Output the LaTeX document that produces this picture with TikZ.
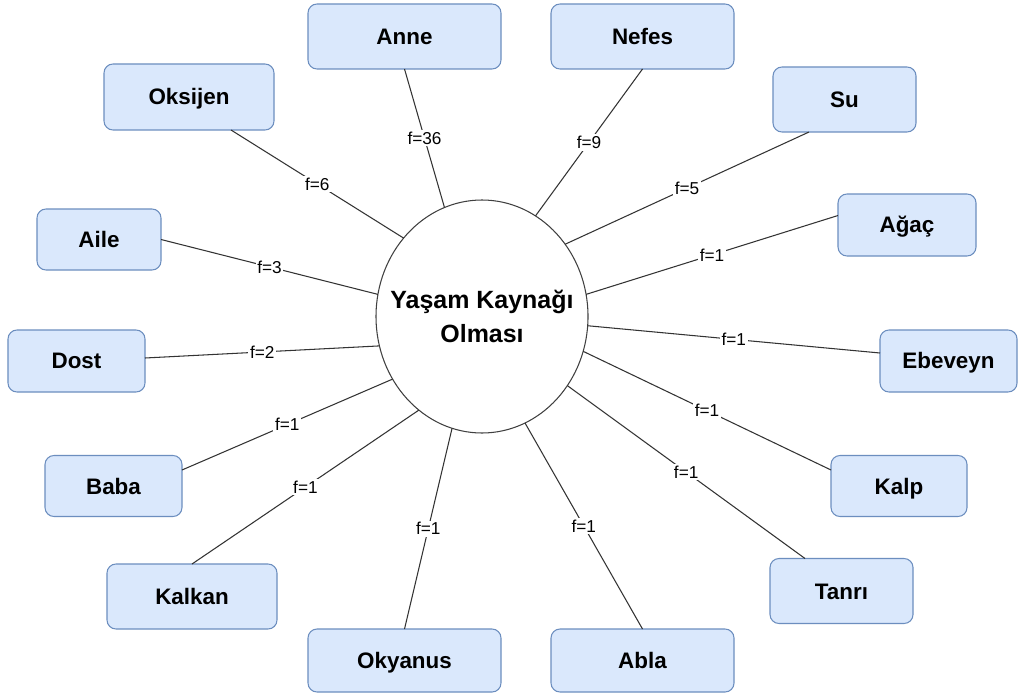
\documentclass[tikz,border=0pt]{standalone}
\usepackage{fontspec}
\setmainfont{Liberation Sans}
\usetikzlibrary{shapes.geometric}
\definecolor{boxfill}{HTML}{DAE8FC}
\definecolor{boxline}{HTML}{6C8EBF}
\begin{document}
\begin{tikzpicture}[
  topic/.style={draw=boxline, fill=boxfill, line width=0.6pt,
    rounded corners=0.18cm, outer sep=0pt, inner sep=0pt,
    font=\fontsize{12.75}{15}\selectfont\bfseries,
    text height=9.1pt, text depth=0pt},
  hub/.style={ellipse, draw=black!75, line width=0.6pt,
    minimum width=4.24cm, minimum height=4.66cm, inner sep=0pt, outer sep=0pt},
  hubtext/.style={align=center, inner sep=0pt,
    font=\fontsize{14.2}{19.3}\selectfont\bfseries},
  link/.style={draw=black!80, line width=0.6pt},
  freq/.style={fill=white, inner sep=1pt, font=\fontsize{9.8}{11}\selectfont, text=black}
]
% canvas
\fill[white] (0,0) rectangle (20.42,-13.86);
\useasboundingbox (0,0) rectangle (20.42,-13.86);

% central concept: outline and its caption
\node[hub] (hub) at (9.64,-6.33) {};
\node[hubtext] (hubcap) at (hub.center) {Yaşam Kaynağı\\Olması};

% surrounding concepts
\node[topic, minimum width=3.86cm, minimum height=1.30cm] (anne)    at (8.09,-0.73)  {Anne};
\node[topic, minimum width=3.66cm, minimum height=1.30cm] (nefes)   at (12.85,-0.73) {Nefes};
\node[topic, minimum width=3.40cm, minimum height=1.32cm] (oksijen) at (3.78,-1.94)  {Oksijen};
\node[topic, minimum width=2.86cm, minimum height=1.30cm] (su)      at (16.89,-1.99) {Su};
\node[topic, minimum width=2.48cm, minimum height=1.22cm] (aile)    at (1.98,-4.79)  {Aile};
\node[topic, minimum width=2.76cm, minimum height=1.24cm] (agac)    at (18.14,-4.50) {Ağaç};
\node[topic, minimum width=2.74cm, minimum height=1.24cm] (dost)    at (1.53,-7.22)  {Dost};
\node[topic, minimum width=2.74cm, minimum height=1.24cm] (ebeveyn) at (18.97,-7.22) {Ebeveyn};
\node[topic, minimum width=2.74cm, minimum height=1.22cm] (baba)    at (2.27,-9.72)  {Baba};
\node[topic, minimum width=2.72cm, minimum height=1.22cm] (kalp)    at (17.98,-9.72) {Kalp};
\node[topic, minimum width=3.40cm, minimum height=1.30cm] (kalkan)  at (3.84,-11.93) {Kalkan};
\node[topic, minimum width=2.86cm, minimum height=1.30cm] (tanri)   at (16.83,-11.82) {Tanrı};
\node[topic, minimum width=3.86cm, minimum height=1.26cm] (okyanus) at (8.09,-13.21) {Okyanus};
\node[topic, minimum width=3.66cm, minimum height=1.26cm] (abla)    at (12.85,-13.21) {Abla};

% frequency links
\draw[link] (anne.south) -- node[freq]{f=36} (hub.109.2);
\draw[link] (nefes.south) -- node[freq]{f=9} (hub.62.4);
\draw[link] ([xshift=0.84cm]oksijen.south) -- node[freq]{f=6} (hub.135.5);
\draw[link] ([xshift=-0.71cm]su.south) -- node[freq]{f=5} (hub.41.9);
\draw[link] (aile.east) -- node[freq]{f=3} (hub.168.7);
\draw[link] ([yshift=0.19cm]agac.west) -- node[freq]{f=1} (hub.12.6);
\draw[link] ([yshift=0.06cm]dost.east) -- node[freq]{f=2} (hub.196.3);
\draw[link] ([yshift=0.16cm]ebeveyn.west) -- node[freq]{f=1} (hub.-5.7);
\draw[link] ([yshift=0.32cm]baba.east) -- node[freq]{f=1} (hub.215.6);
\draw[link] ([yshift=0.32cm]kalp.west) -- node[freq]{f=1} (hub.-19.9);
\draw[link] (kalkan.north) -- node[freq]{f=1} (hub.236.6);
\draw[link] ([xshift=-0.73cm]tanri.north) -- node[freq]{f=1} (hub.-39.9);
\draw[link] (okyanus.north) -- node[freq]{f=1} (hub.255.7);
\draw[link] (abla.north) -- node[freq]{f=1} (hub.-68.2);
\end{tikzpicture}
\end{document}
